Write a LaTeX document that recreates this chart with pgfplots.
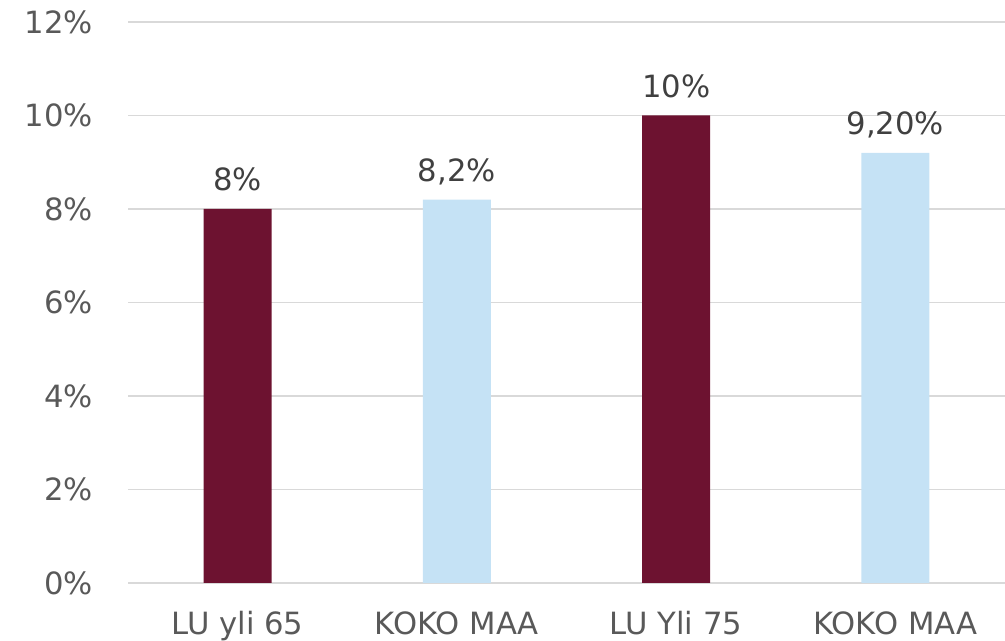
\documentclass[border=0pt]{standalone}
\usepackage{pgfplots}
\pgfplotsset{compat=1.18}
\usepackage{fontspec}
\setmainfont{DejaVu Sans}
\definecolor{darkred}{HTML}{6D1230}
\definecolor{lightblue}{HTML}{C5E2F5}
\definecolor{gridgrey}{HTML}{D9D9D9}
\definecolor{ticktext}{HTML}{595959}
\definecolor{valtext}{HTML}{404040}
\begin{document}
\begin{tikzpicture}[x=1pt,y=1pt]
\useasboundingbox (-96,-43.5) rectangle (657.75,437.25);
\begin{axis}[
  at={(0,0)}, anchor=south west,
  scale only axis,
  width=657.75pt, height=420.75pt,
  xmin=-0.5, xmax=3.5,
  ymin=0, ymax=12,
  ytick={0,2,4,6,8,10,12},
  xtick={0,1,2,3},
  xticklabels={LU yli 65, KOKO MAA, LU Yli 75, KOKO MAA},
  axis line style={draw=none},
  major tick length=0pt,
  ymajorgrids,
  grid style={gridgrey, line width=1.1pt},
  font=\fontsize{23}{27}\selectfont,
  /pgf/number format/assume math mode=true,
  yticklabel={\pgfmathprintnumber{\tick}\%},
  yticklabel style={text=ticktext, anchor=east, inner sep=0pt, xshift=-26pt},
  xticklabel style={text=ticktext, anchor=base, inner sep=0pt, yshift=-39pt},
  ybar, bar width=51pt,
  point meta=explicit symbolic,
  nodes near coords={\pgfplotspointmeta},
  nodes near coords style={text=valtext, anchor=base, inner sep=0pt, yshift=13.5pt},
  clip=false,
]
\addplot[fill=darkred, draw=none, bar shift=0pt] coordinates {(0,8) [8\%] (2,10) [10\%]};
\addplot[fill=lightblue, draw=none, bar shift=0pt] coordinates {(1,8.2) [8,2\%] (3,9.2) [9,20\%]};
\end{axis}
\end{tikzpicture}
\end{document}
